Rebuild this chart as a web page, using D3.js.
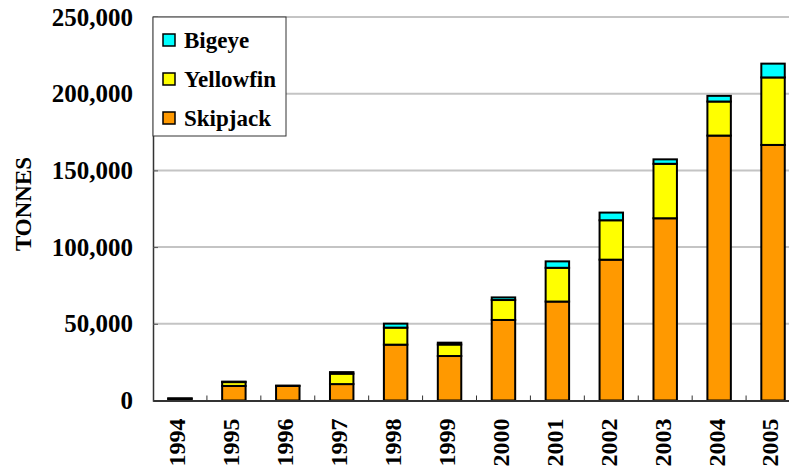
<!DOCTYPE html>
<html><head><meta charset="utf-8">
<script src="https://cdn.jsdelivr.net/npm/d3@7"></script>
<style>html,body{margin:0;padding:0;background:#fff;overflow:hidden}svg{display:block}
svg text{font-family:"Liberation Serif","Times New Roman",serif;font-weight:bold;fill:#000}</style>
</head><body>
<svg id="c" width="789" height="474"></svg>
<script>
const years = ["1994","1995","1996","1997","1998","1999","2000","2001","2002","2003","2004","2005"];
const skipjack = [1200, 9500, 9500, 10700, 36400, 29000, 52500, 64500, 91800, 118800, 172700, 166600];
const yellowfin = [200, 2500, 200, 6800, 11100, 7500, 13000, 22000, 25700, 35500, 22200, 44000];
const bigeye = [0, 300, 0, 1000, 2600, 1200, 1700, 4200, 5000, 2900, 3700, 9000];
const seriesNames = ["Skipjack","Yellowfin","Bigeye"];
const colors = {Skipjack:"#FF9900", Yellowfin:"#FFFF00", Bigeye:"#00FFFF"};
const yTicks = [0, 50000, 100000, 150000, 200000, 250000];

const svg = d3.select("#c");
const m = {left:153, top:17, right:800, bottom:400.5};

const rows = years.map((y,i)=>({year:y, Skipjack:skipjack[i], Yellowfin:yellowfin[i], Bigeye:bigeye[i]}));
const stack = d3.stack().keys(seriesNames)(rows);

const x = d3.scaleBand().domain(years).range([m.left, m.right]).paddingInner(0.565).paddingOuter(0.2825);
const y = d3.scaleLinear().domain([0,250000]).range([m.bottom, m.top]);

// gridlines
svg.append("g").selectAll("line").data(yTicks.slice(1)).join("line")
  .attr("x1", m.left).attr("x2", 789).attr("y1", d=>y(d)).attr("y2", d=>y(d))
  .attr("stroke","#c4c4c4").attr("stroke-width",2);

// bars
const g = svg.append("g");
stack.forEach(s=>{
  g.append("g").selectAll("rect").data(s).join("rect")
    .attr("x", d=>x(d.data.year)).attr("width", x.bandwidth())
    .attr("y", d=>y(d[1])).attr("height", d=>Math.max(0, y(d[0])-y(d[1])))
    .attr("fill", colors[s.key]).attr("stroke","#000").attr("stroke-width",2);
});

// y axis
const ya = svg.append("g").attr("transform",`translate(${m.left},0)`)
  .call(d3.axisLeft(y).tickValues(yTicks).tickSize(-5).tickPadding(20).tickFormat(d3.format(",")));
ya.attr("font-family",null).attr("font-size",null);
ya.select(".domain").attr("stroke","#333").attr("stroke-width",1.5);
ya.selectAll(".tick line").attr("stroke","#555");
ya.selectAll("text").style("font-size","25px");

// x axis
const xa = svg.append("g").attr("transform",`translate(0,${m.bottom})`)
  .call(d3.axisBottom(x).tickSize(0).tickPadding(0));
xa.attr("font-family",null).attr("font-size",null);
xa.select(".domain").attr("stroke","#333").attr("stroke-width",2);
xa.selectAll("text").style("font-size","24px")
  .attr("transform","rotate(-90)").attr("text-anchor","end").attr("dy","0.35em").attr("x",-18).attr("y",-3);
// category boundary ticks
const bounds = years.slice(1).map(yr => x(yr) - x.step()*x.paddingInner()/2);
svg.append("g").selectAll("line").data(bounds).join("line")
  .attr("x1",d=>d).attr("x2",d=>d).attr("y1",m.bottom).attr("y2",m.bottom-5)
  .attr("stroke","#333").attr("stroke-width",1);

// y title
svg.append("text").attr("transform","translate(23,204) rotate(-90)")
  .attr("text-anchor","middle").attr("dy","0.35em").style("font-size","23px").text("TONNES");

// legend
const lg = svg.append("g");
lg.append("rect").attr("x",m.left).attr("y",m.top).attr("width",133).attr("height",119)
  .attr("fill","#fff").attr("stroke","#333").attr("stroke-width",1);
const legItems = ["Bigeye","Yellowfin","Skipjack"];
legItems.forEach((k,i)=>{
  const cy = 40 + i*39;
  lg.append("rect").attr("x",163).attr("y",cy-6).attr("width",12).attr("height",12)
    .attr("fill",colors[k]).attr("stroke","#000").attr("stroke-width",1.5);
  lg.append("text").attr("x",184).attr("y",cy).attr("dy","0.35em")
    .style("font-size","23px").text(k);
});
</script>
</body></html>
